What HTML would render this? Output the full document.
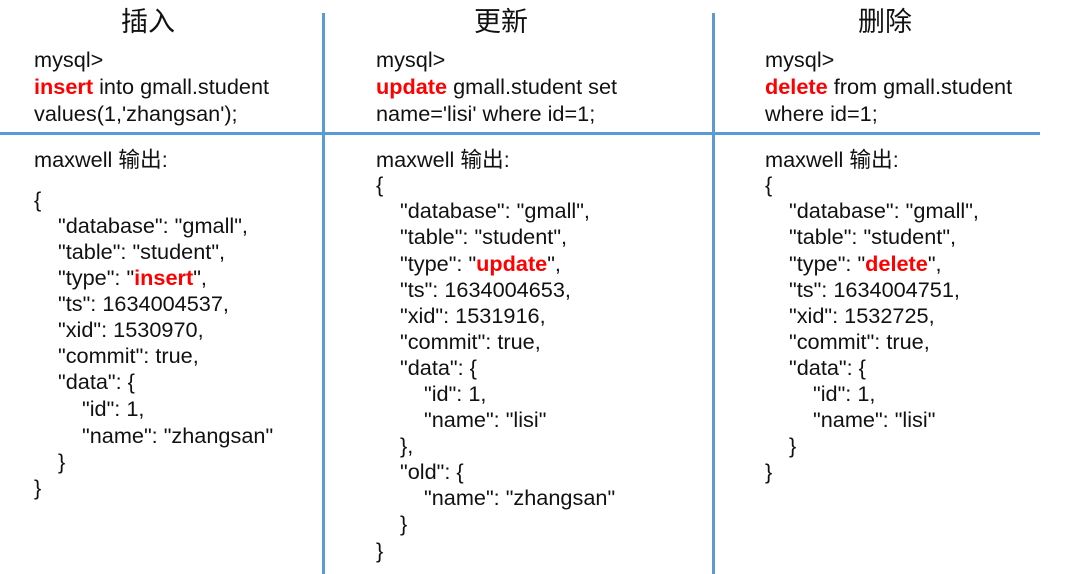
<!DOCTYPE html>
<html><head><meta charset="utf-8"><style>
body{margin:0;width:1082px;height:574px;background:#fff;position:relative;overflow:hidden;font-family:"Liberation Sans","Noto Sans CJK SC",sans-serif;color:#111}
.t{position:absolute;font-size:21.7px;line-height:26px;white-space:pre}
.h{position:absolute;font-size:27px;line-height:30px;top:7px}
.r{color:#f00;font-weight:bold}
.l{position:absolute;background:#5b9bd5}
</style></head><body>
<div class="l" style="left:0;top:132px;width:1040px;height:3px"></div>
<div class="l" style="left:322px;top:13px;width:3px;height:561px"></div>
<div class="l" style="left:712px;top:13px;width:3px;height:561px"></div>
<div class="h" style="left:121px">插入</div>
<div class="h" style="left:474px">更新</div>
<div class="h" style="left:858px">删除</div>

<div class="t" style="left:34px;top:47px">mysql&gt;</div>
<div class="t" style="left:34px;top:74px"><span class="r">insert</span> into gmall.student</div>
<div class="t" style="left:34px;top:101px">values(1,'zhangsan');</div>
<div class="t" style="left:34px;top:147px">maxwell 输出:</div>
<div class="t" style="left:34px;top:187px">{</div>
<div class="t" style="left:58px;top:213px">"database": "gmall",</div>
<div class="t" style="left:58px;top:239px">"table": "student",</div>
<div class="t" style="left:58px;top:265px">"type": "<span class="r">insert</span>",</div>
<div class="t" style="left:58px;top:291px">"ts": 1634004537,</div>
<div class="t" style="left:58px;top:317px">"xid": 1530970,</div>
<div class="t" style="left:58px;top:343px">"commit": true,</div>
<div class="t" style="left:58px;top:369px">"data": {</div>
<div class="t" style="left:82px;top:396px">"id": 1,</div>
<div class="t" style="left:82px;top:423px">"name": "zhangsan"</div>
<div class="t" style="left:58px;top:449px">}</div>
<div class="t" style="left:34px;top:475px">}</div>

<div class="t" style="left:376px;top:47px">mysql&gt;</div>
<div class="t" style="left:376px;top:74px"><span class="r">update</span> gmall.student set</div>
<div class="t" style="left:376px;top:101px">name='lisi' where id=1;</div>
<div class="t" style="left:376px;top:147px">maxwell 输出:</div>
<div class="t" style="left:376px;top:172px">{</div>
<div class="t" style="left:400px;top:198px">"database": "gmall",</div>
<div class="t" style="left:400px;top:224px">"table": "student",</div>
<div class="t" style="left:400px;top:251px">"type": "<span class="r">update</span>",</div>
<div class="t" style="left:400px;top:277px">"ts": 1634004653,</div>
<div class="t" style="left:400px;top:303px">"xid": 1531916,</div>
<div class="t" style="left:400px;top:329px">"commit": true,</div>
<div class="t" style="left:400px;top:355px">"data": {</div>
<div class="t" style="left:424px;top:381px">"id": 1,</div>
<div class="t" style="left:424px;top:407px">"name": "lisi"</div>
<div class="t" style="left:400px;top:433px">},</div>
<div class="t" style="left:400px;top:459px">"old": {</div>
<div class="t" style="left:424px;top:485px">"name": "zhangsan"</div>
<div class="t" style="left:400px;top:511px">}</div>
<div class="t" style="left:376px;top:538px">}</div>

<div class="t" style="left:765px;top:47px">mysql&gt;</div>
<div class="t" style="left:765px;top:74px"><span class="r">delete</span> from gmall.student</div>
<div class="t" style="left:765px;top:101px">where id=1;</div>
<div class="t" style="left:765px;top:147px">maxwell 输出:</div>
<div class="t" style="left:765px;top:172px">{</div>
<div class="t" style="left:789px;top:198px">"database": "gmall",</div>
<div class="t" style="left:789px;top:224px">"table": "student",</div>
<div class="t" style="left:789px;top:251px">"type": "<span class="r">delete</span>",</div>
<div class="t" style="left:789px;top:277px">"ts": 1634004751,</div>
<div class="t" style="left:789px;top:303px">"xid": 1532725,</div>
<div class="t" style="left:789px;top:329px">"commit": true,</div>
<div class="t" style="left:789px;top:355px">"data": {</div>
<div class="t" style="left:813px;top:381px">"id": 1,</div>
<div class="t" style="left:813px;top:407px">"name": "lisi"</div>
<div class="t" style="left:789px;top:433px">}</div>
<div class="t" style="left:765px;top:459px">}</div>
</body></html>
